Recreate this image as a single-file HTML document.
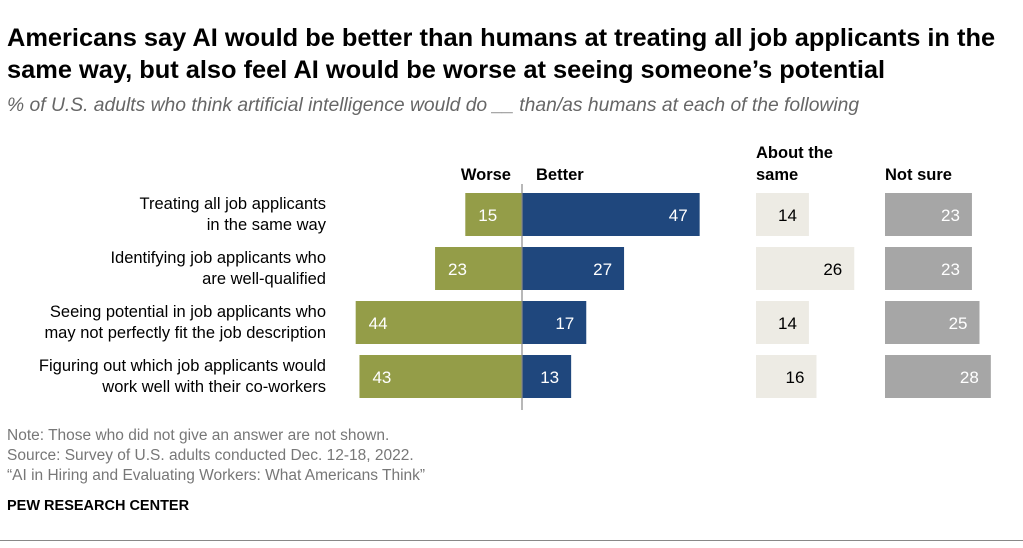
<!DOCTYPE html>
<html><head><meta charset="utf-8"><style>
body{margin:0;width:1023px;height:548px;background:#fff;font-family:"Liberation Sans",sans-serif;position:relative;overflow:hidden}
.t{position:absolute;white-space:nowrap}
</style></head><body>
<div class="t" style="left:7px;top:22px;font-size:25.4px;font-weight:bold;line-height:32px;color:#000">Americans say AI would be better than humans at treating all job applicants in the<br>same way, but also feel AI would be worse at seeing someone’s potential</div>
<div class="t" style="left:7px;top:95px;font-size:19.3px;font-style:italic;color:#666">% of U.S. adults who think artificial intelligence would do __ than/as humans at each of the following</div>
<svg id="c" width="1023" height="548" style="position:absolute;left:0;top:0"></svg>
<div class="t" style="left:7px;top:426px;font-size:15.5px;color:#777;line-height:20px">Note: Those who did not give an answer are not shown.<br>Source: Survey of U.S. adults conducted Dec. 12-18, 2022.<br>“AI in Hiring and Evaluating Workers: What Americans Think”</div>
<div class="t" style="left:7px;top:498px;font-size:14.5px;font-weight:bold;color:#000">PEW RESEARCH CENTER</div>
<div style="position:absolute;left:0;top:540px;width:1023px;height:1px;background:#888"></div>
<script>
const categories=[["Treating all job applicants","in the same way"],["Identifying job applicants who","are well-qualified"],["Seeing potential in job applicants who","may not perfectly fit the job description"],["Figuring out which job applicants would","work well with their co-workers"]];
const worse=[15,23,44,43];
const better=[47,27,17,13];
const same=[14,26,14,16];
const notSure=[23,23,25,28];
const svg=document.getElementById('c');
const NS='http://www.w3.org/2000/svg';
const cx=522,k=3.78,sx=756,nx=885,top0=193,pitch=54,bh=43;
const xs=v=>v*k;
function el(tag,a,txt){const e=document.createElementNS(NS,tag);for(const n in a)e.setAttribute(n,a[n]);if(txt!==undefined)e.textContent=txt;svg.appendChild(e);return e;}
function hdr(x,y,s,anchor,name){const e=el('text',{x:x,y:y,'font-size':16.5,'font-weight':'bold','text-anchor':anchor,fill:'#000'},s);}
hdr(511,180,'Worse','end','header-worse');hdr(536,180,'Better','start','header-better');
hdr(sx,158,'About the','start','header-same');hdr(sx,180,'same','start','header-same-2');hdr(nx,180,'Not sure','start','header-not-sure');
categories.forEach((c,i)=>{
 const y=top0+i*pitch;
 c.forEach((ln,j)=>{const t=el('text',{x:326,y:y+16+j*21,'font-size':16.5,'text-anchor':'end',fill:'#000'},ln);});
 const bars=[[cx-xs(worse[i]),xs(worse[i]),'#949d48','#fff',worse[i],'start','bar-worse'],[cx,xs(better[i]),'#1f477d','#fff',better[i],'end','bar-better'],[sx,xs(same[i]),'#edebe4','#000',same[i],'end','bar-same'],[nx,xs(notSure[i]),'#a6a6a6','#fff',notSure[i],'end','bar-not-sure']];
 bars.forEach(b=>{
  const r=el('rect',{x:b[0],y:y,width:b[1],height:bh,fill:b[2]});
  
  
  const tx=b[5]==='start'?b[0]+13:b[0]+b[1]-12;
  const t=el('text',{x:tx,y:y+28,'font-size':17,'text-anchor':b[5],fill:b[3]},b[4]);
  
  
 });
});
const ax=el('line',{x1:cx,y1:184,x2:cx,y2:410,stroke:'#888','stroke-width':1.2});


</script>
</body></html>
